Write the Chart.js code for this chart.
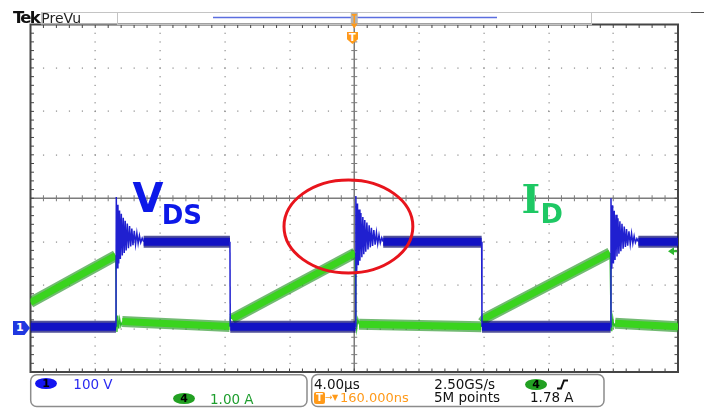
<!DOCTYPE html>
<html>
<head>
<meta charset="utf-8">
<script src="https://cdn.jsdelivr.net/npm/chart.js@4.4.0/dist/chart.umd.min.js"></script>
<style>
body { margin: 0; background: #fff; }
#wrap { position: relative; width: 704px; height: 412px; overflow: hidden; font-family: "DejaVu Sans", sans-serif; }
#wrap canvas { position: absolute; left: 0; top: 0; }
.t { position: absolute; white-space: nowrap; line-height: 1; }
.badge { position: absolute; border-radius: 50%; text-align: center; font-size: 11px; font-weight: bold; line-height: 11px; color: #000; }
</style>
</head>
<body>
<div id="wrap">
	<canvas id="scope" width="704" height="412"></canvas>

	<!-- header -->
	<div class="t" style="left:13px;top:9.6px;font-size:16.5px;font-weight:bold;letter-spacing:-1.8px;color:#111;">Tek</div>
	<div class="t" style="left:41.3px;top:11.1px;font-size:14px;color:#222;">PreVu</div>

	<!-- trigger position marker and ch1 ground marker -->
	<div class="t" style="left:347px;top:31.5px;width:11px;height:12.5px;background:#ff9a1a;clip-path:polygon(0 0,100% 0,100% 62%,50% 100%,0 62%);color:#fff;font-size:10px;font-weight:bold;text-align:center;line-height:11px;">T</div>
	<div class="t" style="left:13px;top:321px;width:17px;height:14px;background:#2038e0;clip-path:polygon(0 0,68% 0,100% 50%,68% 100%,0 100%);color:#fff;font-size:11px;font-weight:bold;line-height:14px;text-indent:3px;">1</div>

	<!-- trace labels -->
	<div class="t" style="left:132.5px;top:178.3px;font-size:40px;font-weight:bold;color:#0c18e8;">V</div>
	<div class="t" style="left:161.7px;top:202px;font-size:26px;font-weight:bold;color:#0c18e8;">DS</div>
	<div class="t" style="left:521.5px;top:178.6px;font-size:40px;font-weight:bold;font-family:'DejaVu Serif',serif;color:#1ec864;">I</div>
	<div class="t" style="left:540.6px;top:199.8px;font-size:27px;font-weight:bold;color:#1ec864;">D</div>

	<!-- status panel -->
	<div class="badge" style="left:35px;top:378px;width:22px;height:11px;background:#1414f0;">1</div>
	<div class="t" style="left:73.3px;top:377.7px;font-size:13.5px;color:#2a2af0;">100 V</div>
	<div class="badge" style="left:173px;top:393px;width:22px;height:11px;background:#22a022;">4</div>
	<div class="t" style="left:210px;top:393.4px;font-size:13.5px;color:#1e9e2e;">1.00 A</div>

	<div class="t" style="left:314px;top:377.7px;font-size:13.5px;color:#111;">4.00µs</div>
	<div class="t" style="left:434.3px;top:377.7px;font-size:13.5px;color:#111;">2.50GS/s</div>
	<div class="badge" style="left:525px;top:378.5px;width:22px;height:11px;background:#22a022;">4</div>
	<div class="t" style="left:314px;top:392px;width:11px;height:12px;background:#ff9a1a;border-radius:2px;color:#fff;font-size:10px;font-weight:bold;text-align:center;line-height:12px;">T</div>
	<div class="t" style="left:325px;top:393px;font-size:9px;color:#ff9a1a;">→</div>
	<div class="t" style="left:332px;top:393.5px;font-size:8px;color:#ff9a1a;">▼</div>
	<div class="t" style="left:340px;top:391.1px;font-size:13px;color:#ff9a1a;">160.000ns</div>
	<div class="t" style="left:434px;top:391.1px;font-size:13.5px;color:#111;">5M points</div>
	<div class="t" style="left:530px;top:391.1px;font-size:13.5px;color:#111;">1.78 A</div>
</div>

<script>
// time axis in µs, 4 µs/div, trigger at 0
const timeMin = -20;
const timeMax = 20;
// ch1 = 100 V/div, ch4 = 1 A/div, both grounds 3 div below centre
const voltMin = -100;
const voltMax = 700;
const ampMin = -1;
const ampMax = 7;
const triggerLevel = 1.78;

// CH1, V_DS (µs / V) - three turn-off edges with ringing
const vdsTime = [-20, -14.72,
	-14.70, -14.65, -14.60, -14.55, -14.50, -14.45, -14.39, -14.33, -14.27, -14.21, -14.15, -14.09, -14.02, -13.95, -13.88, -13.81, -13.74, -13.67, -13.59, -13.51, -13.43, -13.35, -13.27, -13.19, -13.10, -13.01,
	-7.68, -7.66, 0.08,
	0.10, 0.15, 0.20, 0.25, 0.30, 0.35, 0.41, 0.47, 0.53, 0.59, 0.65, 0.71, 0.78, 0.85, 0.92, 0.99, 1.06, 1.13, 1.21, 1.29, 1.37, 1.45, 1.53, 1.61, 1.70, 1.79,
	7.87, 7.89, 15.84,
	15.86, 15.91, 15.96, 16.01, 16.06, 16.11, 16.17, 16.23, 16.29, 16.35, 16.41, 16.47, 16.54, 16.61, 16.68, 16.75, 16.82, 16.89, 16.97, 17.05, 17.13, 17.21, 17.29, 17.37, 17.46, 17.55,
	20];
const vdsVolts = [4, 4,
	303, 140, 285, 150, 272, 160, 264, 168, 255, 174, 248, 180, 242, 185, 236, 189, 230, 192, 225, 194, 220, 196, 214, 198, 208, 200,
	200, 4, 4,
	305, 132, 288, 146, 274, 156, 266, 164, 257, 171, 250, 177, 244, 182, 238, 187, 232, 190, 227, 193, 221, 195, 215, 197, 209, 200,
	200, 4, 4,
	300, 138, 284, 150, 271, 158, 262, 166, 254, 172, 247, 178, 241, 184, 235, 188, 229, 191, 224, 194, 219, 196, 213, 198, 207, 200,
	200];

// CH4, I_D (µs / A)
const idTime = [-20, -14.74, -14.70, -14.66, -14.61, -14.55, -14.49, -14.42, -14.33, -7.70, -7.64, -7.55,
	0.05, 0.10, 0.15, 0.22, 0.30, 7.85, 7.93, 8.15,
	15.80, 15.86, 15.91, 15.97, 16.04, 16.12, 20];
const idAmps = [0.60, 1.68, 0.22, -0.08, 0.30, 0.00, 0.22, 0.06, 0.16, 0.05, 0.30, 0.22,
	1.74, 0.18, -0.02, 0.22, 0.10, 0.04, 0.14, 0.25,
	1.74, 0.20, -0.06, 0.24, 0.04, 0.12, 0.04];

// red circle drawn round the turn-off ringing (µs / V)
const markCenter = [-0.36, 235];
const markRadius = [3.98, 107];

const vdsPoints = vdsTime.map((t, i) => ({ x: t, y: vdsVolts[i] }));
const idPoints = idTime.map((t, i) => ({ x: t, y: idAmps[i] }));

// steep or very short pieces (edges, ringing) are thin, the rest is a thick noisy band
function isSteep(ctx) {
	const dx = Math.abs(ctx.p1.x - ctx.p0.x);
	const dy = Math.abs(ctx.p1.y - ctx.p0.y);
	return dy > dx * 3 || dx < 3;
}

const graticule = {
	id: "graticule",
	beforeDatasetsDraw(chart) {
		const c = chart.ctx;
		const a = chart.chartArea;
		const x = chart.scales.x;
		const y = chart.scales.yV;
		const xs = [];
		const ys = [];
		for (let k = 0; k <= 10; k++) xs.push(x.getPixelForValue(timeMin + k * 4));
		for (let k = 0; k <= 8; k++) ys.push(y.getPixelForValue(voltMin + k * 100));
		const xMinor = (xs[1] - xs[0]) / 5;
		const yMinor = (ys[0] - ys[1]) / 5;
		c.save();
		// dotted grid
		c.fillStyle = "#8a8a8a";
		for (let k = 1; k < 10; k++) {
			if (k === 5) continue;
			for (let yy = a.top; yy <= a.bottom + 0.1; yy += yMinor) c.fillRect(Math.round(xs[k]) - 0.5, yy - 0.5, 1.2, 1.2);
		}
		for (let k = 1; k < 8; k++) {
			if (k === 4) continue;
			for (let xx = a.left; xx <= a.right + 0.1; xx += xMinor) c.fillRect(xx - 0.5, Math.round(ys[k]) - 0.5, 1.2, 1.2);
		}
		// centre lines with minor ticks
		const cx = xs[5];
		const cy = ys[4];
		c.strokeStyle = "#7c7c7c";
		c.lineWidth = 1.5;
		c.beginPath();
		c.moveTo(a.left, cy); c.lineTo(a.right, cy);
		c.moveTo(cx, a.top); c.lineTo(cx, a.bottom);
		c.stroke();
		c.lineWidth = 1;
		c.beginPath();
		for (let xx = a.left; xx <= a.right + 0.1; xx += xMinor) { c.moveTo(xx, cy - 3); c.lineTo(xx, cy + 3); }
		for (let yy = a.top; yy <= a.bottom + 0.1; yy += yMinor) { c.moveTo(cx - 3, yy); c.lineTo(cx + 3, yy); }
		c.stroke();
		// frame with inward ticks
		c.strokeStyle = "#454545";
		c.beginPath();
		for (let xx = a.left; xx <= a.right + 0.1; xx += xMinor) {
			c.moveTo(xx, a.top); c.lineTo(xx, a.top + 3.5);
			c.moveTo(xx, a.bottom); c.lineTo(xx, a.bottom - 3.5);
		}
		for (let yy = a.top; yy <= a.bottom + 0.1; yy += yMinor) {
			c.moveTo(a.left, yy); c.lineTo(a.left + 3.5, yy);
			c.moveTo(a.right, yy); c.lineTo(a.right - 3.5, yy);
		}
		c.stroke();
		c.lineWidth = 2;
		c.strokeRect(a.left, a.top, a.right - a.left, a.bottom - a.top);
		c.restore();
	},
	afterDatasetsDraw(chart) {
		const c = chart.ctx;
		const a = chart.chartArea;
		const x = chart.scales.x;
		const y = chart.scales.yV;
		const yi = chart.scales.yI;
		c.save();
		// red ellipse
		const ex = x.getPixelForValue(markCenter[0]);
		const ey = y.getPixelForValue(markCenter[1]);
		const rx = x.getPixelForValue(markCenter[0] + markRadius[0]) - ex;
		const ry = ey - y.getPixelForValue(markCenter[1] + markRadius[1]);
		c.strokeStyle = "#e8141c";
		c.lineWidth = 3;
		c.beginPath();
		c.ellipse(ex, ey, rx, ry, 0, 0, Math.PI * 2);
		c.stroke();
		// ch4 trigger level arrow
		const ty = yi.getPixelForValue(triggerLevel);
		c.fillStyle = "#2fb82f";
		c.beginPath();
		c.moveTo(a.right - 10, ty); c.lineTo(a.right - 4, ty - 4); c.lineTo(a.right - 4, ty + 4);
		c.closePath();
		c.fill();
		c.fillRect(a.right - 5, ty - 1, 4, 2);
		c.restore();
	},
	afterDraw(chart) {
		const c = chart.ctx;
		const a = chart.chartArea;
		const cx = chart.scales.x.getPixelForValue(0);
		c.save();
		// header boxes
		c.strokeStyle = "#c4c4c4";
		c.lineWidth = 1;
		c.strokeRect(41.5, 12.5, 76, 11.5);
		c.strokeRect(117.5, 12.5, 474, 12);
		c.beginPath();
		c.moveTo(591.5, 12.5); c.lineTo(704, 12.5);
		c.moveTo(591.5, 12.5); c.lineTo(591.5, 24.5);
		c.stroke();
		c.strokeStyle = "#555";
		c.beginPath(); c.moveTo(691, 12.5); c.lineTo(704, 12.5); c.stroke();
		// record overview
		c.strokeStyle = "#5b6ee0";
		c.lineWidth = 1.5;
		c.beginPath(); c.moveTo(213, 17.5); c.lineTo(497, 17.5); c.stroke();
		// trigger position on the record bar
		c.fillStyle = "#b4b4b4";
		c.fillRect(cx - 3.5, 12.5, 7, 11);
		c.fillStyle = "#ff9a1a";
		c.fillRect(cx - 0.8, 14, 1.6, 9);
		c.fillRect(cx - 2.5, 14, 5, 1.6);
		c.beginPath();
		c.moveTo(cx - 3.5, a.top - 1); c.lineTo(cx + 3.5, a.top - 1); c.lineTo(cx, a.top + 4);
		c.closePath();
		c.fill();
		// status panel boxes
		c.strokeStyle = "#8c8c8c";
		c.lineWidth = 1.5;
		c.beginPath(); c.roundRect(30.7, 374.7, 276.3, 31.8, 6); c.stroke();
		c.beginPath(); c.roundRect(311.7, 374.5, 292.3, 32, 6); c.stroke();
		// trigger slope icon
		c.strokeStyle = "#111";
		c.lineWidth = 2;
		c.beginPath();
		c.moveTo(557, 388.5); c.lineTo(561, 388.5); c.lineTo(564, 380.5); c.lineTo(568, 380.5);
		c.stroke();
		c.restore();
	}
};

const chart = new Chart(document.getElementById("scope"), {
	type: "line",
	data: {
		datasets: [
			{
				label: "VDS",
				data: vdsPoints,
				yAxisID: "yV",
				order: 1,
				pointRadius: 0,
				segment: {
					borderWidth: ctx => isSteep(ctx) ? 1.5 : 8,
					borderColor: ctx => isSteep(ctx) ? "#2020d0" : "#1212c4"
				}
			},
			{
				label: "VDS noise",
				data: vdsPoints,
				yAxisID: "yV",
				order: 2,
				pointRadius: 0,
				borderWidth: 12,
				segment: {
					borderColor: ctx => isSteep(ctx) ? "rgba(0,0,0,0)" : "rgba(8,8,110,0.7)"
				}
			},
			{
				label: "ID",
				data: idPoints,
				yAxisID: "yI",
				order: 3,
				pointRadius: 0,
				segment: {
					borderWidth: ctx => isSteep(ctx) ? 1.3 : 7,
					borderColor: ctx => isSteep(ctx) ? "#2cb82c" : "#3ad41e"
				}
			},
			{
				label: "ID noise",
				data: idPoints,
				yAxisID: "yI",
				order: 4,
				pointRadius: 0,
				borderWidth: 11,
				segment: {
					borderColor: ctx => isSteep(ctx) ? "rgba(0,0,0,0)" : "rgba(20,140,20,0.6)"
				}
			}
		]
	},
	options: {
		responsive: false,
		animation: false,
		layout: { padding: { left: 30.5, top: 24.5, right: 26, bottom: 40 } },
		plugins: { legend: { display: false }, tooltip: { enabled: false } },
		scales: {
			x: { type: "linear", min: timeMin, max: timeMax, display: false },
			yV: { type: "linear", min: voltMin, max: voltMax, display: false },
			yI: { type: "linear", min: ampMin, max: ampMax, display: false }
		}
	},
	plugins: [graticule]
});
</script>
</body>
</html>
